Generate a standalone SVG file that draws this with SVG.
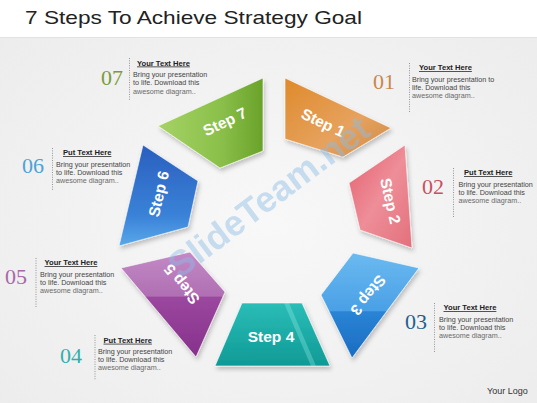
<svg xmlns="http://www.w3.org/2000/svg" width="537" height="403" viewBox="0 0 537 403">
<style>
.num{font-family:"Liberation Serif","DejaVu Serif",serif;font-size:22px}
.hd{font-family:"Liberation Sans",Arial,sans-serif;font-size:7.6px;font-weight:bold;fill:#222;text-decoration:underline}
.bd{font-family:"Liberation Sans",Arial,sans-serif;font-size:7.2px;fill:#454545}
.bd3{fill:#6a6a6a}
.dot{stroke:#8a8a8a;stroke-width:0.9;stroke-dasharray:1 1.4;fill:none}
.lbl{font-family:"Liberation Sans",Arial,sans-serif;font-size:15.5px;font-weight:bold;fill:#fff;text-anchor:middle}
.shape{stroke:#ffffff;stroke-opacity:0.6;stroke-width:1;filter:url(#sh)}
</style>
<defs>
<filter id="sh" x="-20%" y="-20%" width="140%" height="140%">
<feDropShadow dx="1.5" dy="3" stdDeviation="2.2" flood-color="#000" flood-opacity="0.22"/>
</filter>
<radialGradient id="bg" cx="0.5" cy="0.55" r="0.7">
<stop offset="0" stop-color="#f8f8f8"/><stop offset="1" stop-color="#ececec"/>
</radialGradient>
<linearGradient id="g1" x1="0" y1="0" x2="1" y2="1"><stop offset="0" stop-color="#df8a2b"/><stop offset="0.6" stop-color="#e6a25e"/><stop offset="1" stop-color="#cf8a46"/></linearGradient>
<linearGradient id="g2" x1="0" y1="0" x2="1" y2="1"><stop offset="0" stop-color="#e35f6f"/><stop offset="0.5" stop-color="#ee8e98"/><stop offset="1" stop-color="#e2707c"/></linearGradient>
<linearGradient id="g3" x1="0" y1="0" x2="0" y2="1"><stop offset="0" stop-color="#6bbaf0"/><stop offset="0.55" stop-color="#4aa0e6"/><stop offset="0.56" stop-color="#2a84d6"/><stop offset="1" stop-color="#1a6cc0"/></linearGradient>
<linearGradient id="g4" x1="0" y1="0" x2="0" y2="1"><stop offset="0" stop-color="#2bbdb7"/><stop offset="1" stop-color="#0f9a96"/></linearGradient>
<linearGradient id="g5" x1="0" y1="0" x2="0" y2="1"><stop offset="0" stop-color="#c38ac6"/><stop offset="0.42" stop-color="#b06fb3"/><stop offset="0.43" stop-color="#9b479f"/><stop offset="1" stop-color="#86318b"/></linearGradient>
<linearGradient id="g6" x1="0" y1="0" x2="0" y2="1"><stop offset="0" stop-color="#2a5fbe"/><stop offset="0.7" stop-color="#3a82d8"/><stop offset="1" stop-color="#5aa8ea"/></linearGradient>
<linearGradient id="g7" x1="0" y1="0" x2="1" y2="0"><stop offset="0" stop-color="#a6d266"/><stop offset="0.6" stop-color="#8ac04a"/><stop offset="1" stop-color="#6aa22a"/></linearGradient>
</defs>
<rect width="537" height="403" fill="url(#bg)"/>
<rect width="537" height="37" fill="#ffffff"/>
<line x1="0" y1="37.5" x2="537" y2="37.5" stroke="#e2e2e2" stroke-width="1"/>
<text x="25" y="24" font-family="'Liberation Sans',Arial,sans-serif" font-size="19" fill="#222" textLength="337" lengthAdjust="spacingAndGlyphs">7 Steps To Achieve Strategy Goal</text>

<g id="step1">
<polygon class="shape" points="285,78 391,128 343,157 285,139" fill="url(#g1)"/>
<text class="lbl" transform="translate(323,123) rotate(25.7)" y="5">Step 1</text>
</g>
<g id="step2">
<polygon class="shape" points="349,183 405,145 412,248 360,230" fill="url(#g2)"/>
<text class="lbl" transform="translate(390,201) rotate(77.1)" y="5">Step 2</text>
</g>
<g id="step3">
<polygon class="shape" points="353,253 419,268 352,358 321,295" fill="url(#g3)"/>
<text class="lbl" transform="translate(368,295) rotate(128.6)" y="5">Step 3</text>
</g>
<g id="step4">
<polygon class="shape" points="242,303 302,303 330,366 215,366" fill="url(#g4)"/>
<polygon points="284,303 289,303 316,366 311,366" fill="#9ff5f0" opacity="0.3"/>
<text class="lbl" x="271" y="342">Step 4</text>
</g>
<g id="step5">
<polygon class="shape" points="121,268 190,252 225,292 196,357" fill="url(#g5)"/>
<text class="lbl" transform="translate(182,284) rotate(-128.6)" y="5">Step 5</text>
</g>
<g id="step6">
<polygon class="shape" points="143,145 198,181 188,227 119,246" fill="url(#g6)"/>
<text class="lbl" transform="translate(159,194) rotate(-77.1)" y="5">Step 6</text>
</g>
<g id="step7">
<polygon class="shape" points="158,126 263,78 263,151 220,168" fill="url(#g7)"/>
<text class="lbl" transform="translate(225,122) rotate(-25.7)" y="5">Step 7</text>
</g>

<text transform="translate(269,197) rotate(-37)" y="12" text-anchor="middle" font-family="'Liberation Sans',Arial,sans-serif" font-size="36" font-weight="bold" fill="#8dbce6" opacity="0.45">SlideTeam.net</text>

<g id="t07">
<text class="num" x="101" y="84.5" fill="#7b9b3b">07</text>
<line class="dot" x1="129.5" y1="58" x2="129.5" y2="101"/>
<text class="hd" x="137" y="65.5">Your Text Here</text>
<text class="bd" x="133" y="77">Bring your presentation</text>
<text class="bd" x="133" y="85.3">to life. Download this</text>
<text class="bd bd3" x="133" y="93.6">awesome diagram..</text>
</g>
<g id="t01">
<text class="num" x="373" y="88.5" fill="#c8874b">01</text>
<line class="dot" x1="409.5" y1="63" x2="409.5" y2="113"/>
<text class="hd" x="419" y="70">Your Text Here</text>
<text class="bd" x="412" y="81.5">Bring your presentation to</text>
<text class="bd" x="412" y="89.8">life. Download this</text>
<text class="bd bd3" x="412" y="98.1">awesome diagram..</text>
</g>
<g id="t06">
<text class="num" x="22" y="173" fill="#4ba3d6">06</text>
<line class="dot" x1="52.5" y1="148" x2="52.5" y2="190"/>
<text class="hd" x="63" y="155">Put Text Here</text>
<text class="bd" x="56" y="166.5">Bring your presentation</text>
<text class="bd" x="56" y="174.8">to life. Download this</text>
<text class="bd bd3" x="56" y="183.1">awesome diagram..</text>
</g>
<g id="t02">
<text class="num" x="422" y="194" fill="#c8505e">02</text>
<line class="dot" x1="453.5" y1="168" x2="453.5" y2="218"/>
<text class="hd" x="464" y="175">Put Text Here</text>
<text class="bd" x="458.5" y="186.5">Bring your presentation</text>
<text class="bd" x="458.5" y="194.8">to life. Download this</text>
<text class="bd bd3" x="458.5" y="203.1">awesome diagram..</text>
</g>
<g id="t05">
<text class="num" x="5" y="283.5" fill="#a868a8">05</text>
<line class="dot" x1="36" y1="258" x2="36" y2="308"/>
<text class="hd" x="44.5" y="265">Your Text Here</text>
<text class="bd" x="40" y="276.5">Bring your presentation</text>
<text class="bd" x="40" y="284.8">to life. Download this</text>
<text class="bd bd3" x="40" y="293.1">awesome diagram..</text>
</g>
<g id="t03">
<text class="num" x="405" y="329" fill="#1f5f8f">03</text>
<line class="dot" x1="434.5" y1="303" x2="434.5" y2="353"/>
<text class="hd" x="443.5" y="310">Your Text Here</text>
<text class="bd" x="439" y="321.5">Bring your presentation</text>
<text class="bd" x="439" y="329.8">to life. Download this</text>
<text class="bd bd3" x="439" y="338.1">awesome diagram..</text>
</g>
<g id="t04">
<text class="num" x="60" y="363" fill="#2fb0b0">04</text>
<line class="dot" x1="95" y1="335" x2="95" y2="380"/>
<text class="hd" x="103.5" y="342.7">Put Text Here</text>
<text class="bd" x="98" y="353.5">Bring your presentation</text>
<text class="bd" x="98" y="361.8">to life. Download this</text>
<text class="bd bd3" x="98" y="370">awesome diagram..</text>
</g>
<text x="487" y="394" font-family="'Liberation Sans',Arial,sans-serif" font-size="9" fill="#333">Your Logo</text>
</svg>
